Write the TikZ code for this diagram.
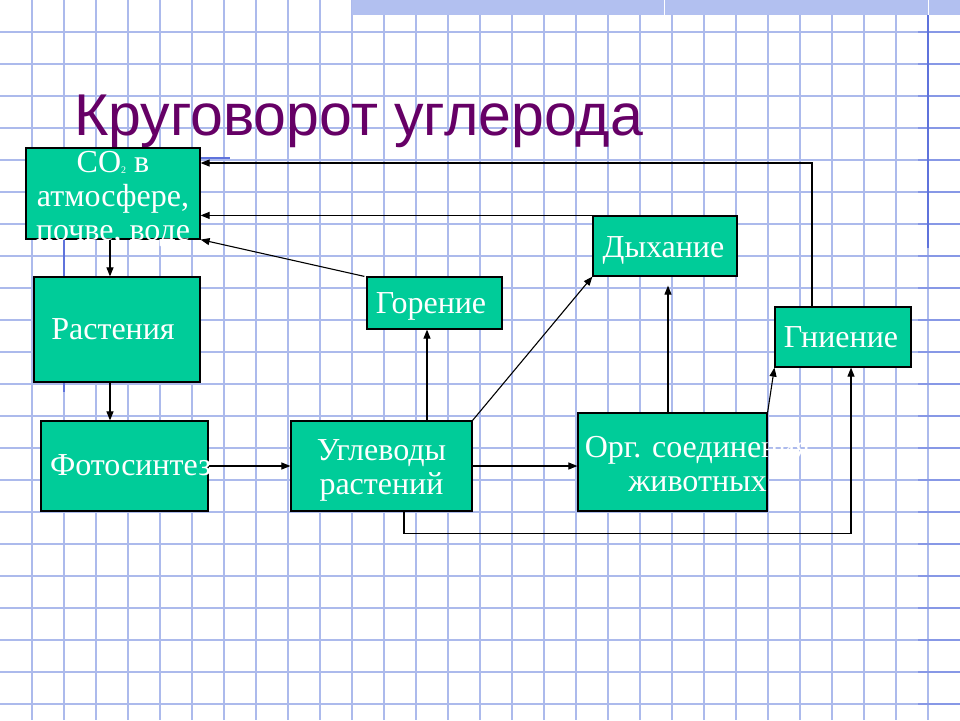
\documentclass[tikz,border=0pt]{standalone}
\usepackage{fontspec}
\setmainfont{Liberation Serif}
\newfontfamily\titlefont{Liberation Sans}
\usetikzlibrary{arrows.meta,calc}
\definecolor{gridblue}{RGB}{172,186,236}
\definecolor{marginblue}{RGB}{135,152,230}
\definecolor{darkblue}{RGB}{95,115,220}
\definecolor{boxgreen}{RGB}{0,204,153}
\definecolor{titlepurple}{RGB}{102,0,102}
\definecolor{bandblue}{RGB}{178,192,240}
\tikzset{
  gridline/.style={draw=gridblue, line width=1.1pt},
  marginline/.style={draw=marginblue, line width=1.1pt},
  decoline/.style={draw=darkblue, line width=1.8pt},
  greenbox/.style={draw=black, fill=boxgreen, line width=1.2pt, inner sep=0pt, rectangle},
  boxtext/.style={text=white, inner sep=0pt, align=center, font=\fontsize{32}{34}\selectfont},
  arr/.style={draw=black, line width=1.1pt, -{Triangle[length=9pt,width=7pt]}},
}
\begin{document}
\begin{tikzpicture}[x=1pt,y=-1pt]
\useasboundingbox (0,0) rectangle (960,720);
\fill[white] (0,0) rectangle (960,720);
% grid
\foreach \x in {32,64,...,928} \draw[gridline] (\x,0) -- (\x,720);
\foreach \y in {32,64,...,704} \draw[gridline] (0,\y) -- (960,\y);
\foreach \y in {32,64,...,704} \draw[marginline] (918,\y) -- (960,\y);
% top band
\fill[bandblue] (352,0) rectangle (960,15);
\draw[white, line width=1pt] (664,0) -- (664,15);
\draw[white, line width=1pt] (928,0) -- (928,15);
% decorative slide lines
\draw[decoline] (928,15) -- (928,248);
\draw[decoline] (64,158) -- (230,158);
\draw[decoline] (64,158) -- (64,392);
% title
\node[anchor=base west, inner sep=0pt, text=titlepurple, font=\titlefont\fontsize{59}{59}\selectfont] (title) at (74,135) {Круговорот углерода};
% boxes
\node[greenbox, minimum width=174pt, minimum height=91pt] (co2) at (113,193.5) {};
\node[greenbox, minimum width=166pt, minimum height=105pt] (rast) at (117,329.5) {};
\node[greenbox, minimum width=167pt, minimum height=90pt] (foto) at (124.5,466) {};
\node[greenbox, minimum width=181pt, minimum height=90pt] (ugl) at (381.5,466) {};
\node[greenbox, minimum width=135pt, minimum height=52pt] (gor) at (434.5,303) {};
\node[greenbox, minimum width=144pt, minimum height=60pt] (dyh) at (665,246) {};
\node[greenbox, minimum width=136pt, minimum height=60pt] (gni) at (843,337) {};
\node[greenbox, minimum width=189pt, minimum height=98pt] (org) at (672.5,462) {};
% connectors
\draw[arr] ($(co2.south)+(-3,0)$) -- ($(rast.north)+(-7,0)$);
\draw[arr] ($(rast.south)+(-7,0)$) -- ($(foto.north)+(-14.5,0)$);
\draw[arr] (foto.east) -- (ugl.west);
\draw[arr] ($(ugl.north)+(45.5,0)$) -- ($(gor.south)+(-7.5,0)$);
\draw[arr] ($(gor.north west)+(-2,0)$) -- (co2.south east);
\draw[arr] (ugl.north east) -- (dyh.south west);
\draw[arr] (ugl.east) -- ($(org.west)+(0,4)$);
\draw[arr] ($(ugl.south)+(22.5,0)$) -- ++(0,22) -| ($(gni.south)+(8,0)$);
\draw[arr, shorten >=9pt] ($(org.north)+(-4.5,0)$) -- ($(dyh.south)+(3,0)$);
\draw[arr] (org.north east) -- (gni.south west);
\draw[arr] ($(gni.north)+(-31,0)$) |- ($(co2.east)+(0,-30.5)$);
\draw[arr] (dyh.north west) -- (dyh.north west -| co2.east);
% texts
\node[boxtext] (co2t) at ($(co2.center)+(0,5)$) {CO\raisebox{-1pt}{\fontsize{10}{10}\selectfont 2} в\\атмосфере,\\почве, воде};
\node[boxtext, anchor=base] (rastt) at ($(rast.center)+(-4,9.5)$) {Растения};
\node[boxtext, anchor=base] (fotot) at ($(foto.center)+(6,9)$) {Фотосинтез};
\node[boxtext] (uglt) at ($(ugl.center)+(0,4)$) {Углеводы\\растений};
\node[boxtext, anchor=base] (gort) at ($(gor.center)+(-3.5,10)$) {Горение};
\node[boxtext, anchor=base] (dyht) at ($(dyh.center)+(-1.5,11)$) {Дыхание};
\node[boxtext, anchor=base] (gnit) at ($(gni.center)+(-2,10)$) {Гниение};
\node[boxtext] (orgt) at ($(org.center)+(25,2)$) {Орг. соединения\\животных};
\end{tikzpicture}
\end{document}
